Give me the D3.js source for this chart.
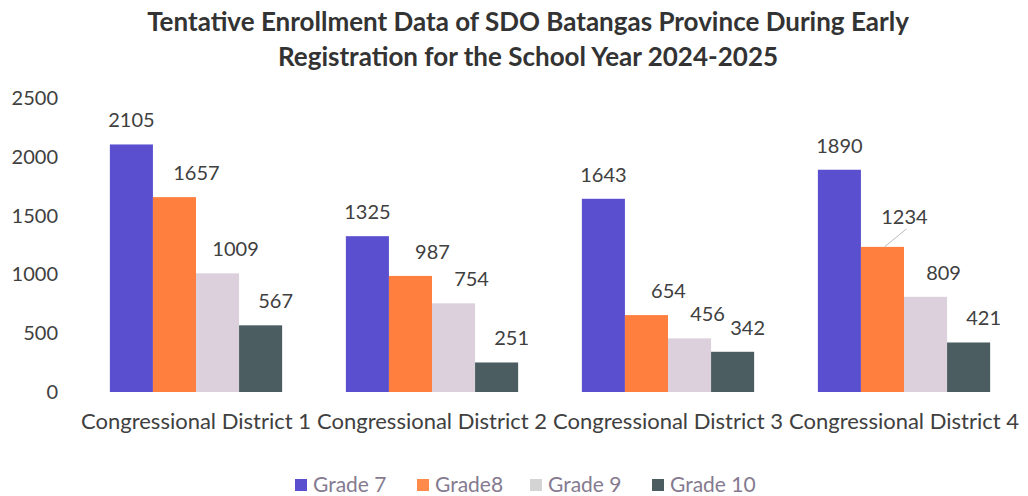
<!DOCTYPE html>
<html>
<head>
<meta charset="utf-8">
<script src="https://cdn.jsdelivr.net/npm/d3@7"></script>
<style>
  body { margin: 0; background: #fff; }
  text { font-family: Lato, "Open Sans", sans-serif; }
</style>
</head>
<body>
<svg id="chart"></svg>
<script>
const SVG_WIDTH = 1028;
const SVG_HEIGHT = 496;

// data
const districts = ["Congressional District 1", "Congressional District 2", "Congressional District 3", "Congressional District 4"];
const grades = ["Grade 7", "Grade8", "Grade 9", "Grade 10"];
const grade7 = [2105, 1325, 1643, 1890];
const grade8 = [1657, 987, 654, 1234];
const grade9 = [1009, 754, 456, 809];
const grade10 = [567, 251, 342, 421];
const yTicks = [0, 500, 1000, 1500, 2000, 2500];

const colors = ["#5a4fcf", "#ff7f3f", "#dcd0dc", "#4b5d60"];
const legendColors = ["#5a4fcf", "#ff8a4a", "#d4d4d4", "#4b5d60"];
// labels of the non Grade 7 bars sit a bit to the right in the original
const labelShift = [0, 22, 18, 15];

function draw_chart() {
    let svg = d3.select("#chart")
        .attr("width", SVG_WIDTH)
        .attr("height", SVG_HEIGHT);

    let series = [grade7, grade8, grade9, grade10];

    let x0 = d3.scaleBand().domain(districts).range([78, 1022])
        .paddingInner(0.27).paddingOuter(0.135);
    let x1 = d3.scaleBand().domain(grades).range([0, x0.bandwidth()]);
    let y = d3.scaleLinear().domain([0, 2500]).range([392, 98]);

    // title
    svg.append("text")
        .attr("x", 528).attr("y", 31)
        .attr("text-anchor", "middle")
        .attr("font-size", 26).attr("font-weight", "bold").attr("fill", "#333")
        .text("Tentative Enrollment Data of SDO Batangas Province During Early");
    svg.append("text")
        .attr("x", 528).attr("y", 66)
        .attr("text-anchor", "middle")
        .attr("font-size", 26).attr("font-weight", "bold").attr("fill", "#333")
        .text("Registration for the School Year 2024-2025");

    // y axis, labels only
    let yAxis = svg.append("g")
        .attr("transform", "translate(58,0)")
        .call(d3.axisLeft(y).tickValues(yTicks).tickFormat(d3.format("d")).tickSize(0).tickPadding(0));
    yAxis.select(".domain").remove();
    yAxis.selectAll("text")
        .attr("font-size", 20).attr("fill", "#404040")
        .style("font-family", "Lato, sans-serif");

    // x axis labels
    let xAxis = svg.append("g")
        .attr("transform", "translate(0,392)")
        .call(d3.axisBottom(x0).tickSize(0).tickPadding(21));
    xAxis.select(".domain").remove();
    xAxis.selectAll("text")
        .attr("font-size", 22).attr("fill", "#404040")
        .style("font-family", "Lato, sans-serif");

    let groups = svg.selectAll("g.district")
        .data(districts)
        .enter()
        .append("g")
        .attr("class", "district")
        .attr("transform", d => "translate(" + x0(d) + ",0)");

    groups.each(function(d, i) {
        let g = d3.select(this);
        let vals = series.map(s => s[i]);
        g.selectAll("rect")
            .data(vals)
            .enter()
            .append("rect")
            .attr("x", (v, j) => x1(grades[j]))
            .attr("y", v => y(v))
            .attr("width", x1.bandwidth())
            .attr("height", v => y(0) - y(v))
            .attr("fill", (v, j) => colors[j]);

        g.selectAll("text.val")
            .data(vals)
            .enter()
            .append("text")
            .attr("class", "val")
            .attr("x", (v, j) => x1(grades[j]) + x1.bandwidth() / 2 + labelShift[j])
            .attr("y", (v, j) => y(v) - (i == 3 && j == 1 ? 23 : 17))
            .attr("text-anchor", "middle")
            .attr("font-size", 20).attr("fill", "#404040")
            .text(v => v);
    });

    // leader line for the moved 1234 label
    let lx = x0(districts[3]) + x1(grades[1]);
    svg.append("line")
        .attr("x1", lx + x1.bandwidth() / 2 + 2).attr("y1", y(grade8[3]))
        .attr("x2", lx + x1.bandwidth() / 2 + 24).attr("y2", y(grade8[3]) - 18)
        .attr("stroke", "#bbb").attr("stroke-width", 1);

    // legend
    let legendX = [295, 417, 530, 652];
    let legend = svg.selectAll("g.legend")
        .data(grades)
        .enter()
        .append("g")
        .attr("class", "legend")
        .attr("transform", (d, i) => "translate(" + legendX[i] + ",479)");
    legend.append("rect")
        .attr("width", 12).attr("height", 12)
        .attr("fill", (d, i) => legendColors[i]);
    legend.append("text")
        .attr("x", 18).attr("y", 13)
        .attr("font-size", 21).attr("fill", "#857a90")
        .text(d => d);
}

window.onload = function init(e) {
    draw_chart();
}
</script>
</body>
</html>
